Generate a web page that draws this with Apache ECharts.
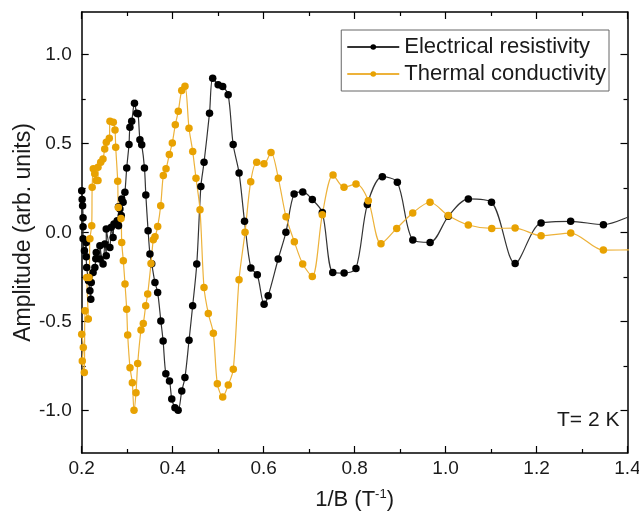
<!DOCTYPE html>
<html>
<head>
<meta charset="utf-8">
<script src="https://cdn.jsdelivr.net/npm/echarts@6/dist/echarts.min.js"></script>
<style>html,body{margin:0;padding:0;background:#fff;}#chart{width:639px;height:512px;}</style>
</head>
<body>
<div id="chart"></div>
<script>
// ---- data ----
const seriesNames = ['Electrical resistivity', 'Thermal conductivity'];
const xTicks = [0.2, 0.4, 0.6, 0.8, 1.0, 1.2, 1.4];
const yTicks = [-1.0, -0.5, 0.0, 0.5, 1.0];

const resistivityX = [0.200,0.201,0.202,0.203,0.203,0.203,0.206,0.210,0.210,0.211,0.215,0.218,0.220,0.221,0.225,0.229,0.231,0.232,0.240,0.240,0.247,0.251,0.254,0.254,0.262,0.265,0.269,0.271,0.278,0.281,0.281,0.284,0.287,0.288,0.291,0.295,0.299,0.304,0.306,0.310,0.316,0.321,0.324,0.328,0.332,0.338,0.341,0.346,0.350,0.354,0.361,0.367,0.374,0.379,0.385,0.393,0.398,0.405,0.412,0.420,0.427,0.436,0.444,0.453,0.462,0.469,0.481,0.488,0.500,0.510,0.522,0.533,0.546,0.558,0.572,0.586,0.601,0.610,0.632,0.649,0.667,0.686,0.707,0.729,0.752,0.777,0.803,0.828,0.861,0.894,0.928,0.966,1.006,1.050,1.101,1.153,1.210,1.275,1.347,1.420];
const resistivityY = [0.235,0.185,0.151,0.083,0.033,-0.035,-0.103,-0.056,-0.136,-0.197,-0.272,-0.328,-0.375,-0.281,-0.225,-0.197,-0.148,-0.112,-0.149,-0.074,-0.177,-0.065,-0.131,0.020,-0.084,0.029,-0.028,0.048,0.066,0.038,0.145,0.132,0.095,0.189,0.170,0.226,0.363,0.495,0.592,0.626,0.727,0.671,0.668,0.521,0.493,0.363,0.211,0.010,-0.121,-0.176,-0.281,-0.337,-0.497,-0.610,-0.795,-0.835,-0.936,-0.985,-1.000,-0.891,-0.816,-0.606,-0.412,-0.177,0.258,0.395,0.671,0.868,0.831,0.821,0.775,0.495,0.335,0.063,-0.200,-0.238,-0.403,-0.356,-0.149,0.001,0.217,0.228,0.185,0.113,-0.225,-0.228,-0.202,0.157,0.314,0.282,-0.042,-0.056,0.091,0.189,0.170,-0.174,0.054,0.063,0.044,0.110];

const conductivityX = [0.2000,0.2035,0.2013,0.2057,0.2073,0.2145,0.2110,0.2160,0.2180,0.2220,0.2230,0.2255,0.2286,0.2320,0.2358,0.2358,0.2418,0.2468,0.2506,0.2541,0.2607,0.2622,0.2695,0.2732,0.2748,0.2792,0.2805,0.2864,0.2880,0.2915,0.2952,0.2989,0.3011,0.3062,0.3113,0.3150,0.3194,0.3231,0.3304,0.3354,0.3407,0.3451,0.3524,0.3574,0.3612,0.3671,0.3737,0.3794,0.3854,0.3926,0.3992,0.4058,0.4124,0.4199,0.4271,0.4359,0.4441,0.4513,0.4601,0.4689,0.4784,0.4894,0.4982,0.5100,0.5223,0.5333,0.5459,0.5591,0.5716,0.5848,0.6008,0.6162,0.6323,0.6492,0.6675,0.6859,0.7070,0.7290,0.7526,0.7767,0.8031,0.8302,0.8580,0.8926,0.9278,0.9658,1.0060,1.0500,1.1015,1.1529,1.2100,1.2752,1.3469,1.4300];
const conductivityY = [-0.572,-0.647,-0.722,-0.788,-0.440,-0.487,-0.253,-0.253,-0.035,0.038,0.254,0.358,0.330,0.292,0.292,0.367,0.395,0.414,0.470,0.508,0.530,0.626,0.620,0.577,0.479,0.288,0.141,0.079,-0.056,-0.159,-0.290,-0.431,-0.576,-0.760,-0.845,-1.000,-0.901,-0.737,-0.549,-0.512,-0.412,-0.346,-0.174,-0.041,-0.024,0.034,0.151,0.320,0.358,0.438,0.504,0.606,0.682,0.799,0.823,0.586,0.455,0.305,0.128,-0.309,-0.456,-0.566,-0.850,-0.925,-0.857,-0.769,-0.266,0.001,0.286,0.395,0.386,0.450,0.305,0.089,-0.052,-0.177,-0.247,0.100,0.324,0.254,0.273,0.179,-0.063,0.023,0.110,0.170,0.095,0.042,0.023,0.025,-0.018,-0.003,-0.099,-0.097];

// ---- layout / style ----
const FONT = 'Liberation Sans, Arial, sans-serif';
const TXT = '#1a1a1a';
const plotLeft = 81.7, plotRight = 11.5, plotTop = 12, plotBottom = 59;
const yLim = 1.24;
const plotH = 512 - plotTop - plotBottom;
const off = (yLim - 1) / (2 * yLim) * plotH;

const zip = (xs, ys) => xs.map((x, i) => [x, ys[i]]);

const tickCommon = {
  axisTick: { show: true, inside: true, length: 7, lineStyle: { color: '#000', width: 1.2 } },
  minorTick: { show: true, splitNumber: 2, length: 4, lineStyle: { color: '#000', width: 1.2 } },
  splitLine: { show: false }, minorSplitLine: { show: false }
};
const lineAx = { show: true, onZero: false, lineStyle: { color: '#000', width: 1.5 } };

const chart = echarts.init(document.getElementById('chart'), null, { renderer: 'canvas' });
chart.setOption({
  animation: false,
  backgroundColor: '#fff',
  grid: [
    { left: plotLeft, right: plotRight, top: plotTop, bottom: plotBottom, outerBoundsMode: 'none', containLabel: false },
    { left: plotLeft, right: plotRight, top: plotTop + off, bottom: plotBottom + off, outerBoundsMode: 'none', containLabel: false }
  ],
  xAxis: [
    Object.assign({ type: 'value', gridIndex: 0, position: 'bottom', min: xTicks[0], max: xTicks[xTicks.length - 1], interval: 0.2,
      axisLine: lineAx,
      axisLabel: { color: TXT, fontSize: 19, fontFamily: FONT, margin: 6, formatter: v => v.toFixed(1) },
      name: '1/B (T{sup|-1})', nameLocation: 'middle', nameGap: 35, nameMoveOverlap: false,
      nameTextStyle: { color: TXT, fontSize: 22, fontFamily: FONT, rich: { sup: { fontSize: 13, verticalAlign: 'top', padding: [0, 0, 11, 0], fontFamily: FONT, color: TXT } } }
    }, tickCommon),
    Object.assign({ type: 'value', gridIndex: 0, position: 'top', min: 0.2, max: 1.4, interval: 0.2,
      axisLine: lineAx, axisLabel: { show: false } }, tickCommon),
    { type: 'value', gridIndex: 1, min: 0.2, max: 1.4, show: false }
  ],
  yAxis: [
    { type: 'value', gridIndex: 0, position: 'left', min: -yLim, max: yLim, axisLine: lineAx,
      axisTick: { show: false }, axisLabel: { show: false }, splitLine: { show: false } },
    { type: 'value', gridIndex: 0, position: 'right', min: -yLim, max: yLim, axisLine: lineAx,
      axisTick: { show: false }, axisLabel: { show: false }, splitLine: { show: false } },
    Object.assign({ type: 'value', gridIndex: 1, position: 'left', min: yTicks[0], max: yTicks[yTicks.length - 1], interval: 0.5,
      axisLine: { show: false },
      axisLabel: { color: TXT, fontSize: 19, fontFamily: FONT, margin: 10, formatter: v => v.toFixed(1) },
      name: 'Amplitude (arb. units)', nameLocation: 'middle', nameGap: 47, nameRotate: 90, nameMoveOverlap: false,
      nameTextStyle: { color: TXT, fontSize: 23, fontFamily: FONT }
    }, tickCommon),
    Object.assign({ type: 'value', gridIndex: 1, position: 'right', min: -1, max: 1, interval: 0.5,
      axisLine: { show: false }, axisLabel: { show: false } }, tickCommon)
  ],
  legend: {
    orient: 'vertical', right: 30, top: 30,
    data: seriesNames,
    borderColor: '#666', borderWidth: 1, borderRadius: 0,
    padding: [6, 3, 6, 5], itemGap: 5, itemWidth: 52, itemHeight: 7,
    textStyle: { color: TXT, fontSize: 22, fontFamily: FONT }
  },
  graphic: [
    { type: 'text', left: 557, top: 410, style: { text: 'T= 2 K', fill: TXT, font: '21px ' + FONT } }
  ],
  series: [
    { name: seriesNames[0], type: 'line', xAxisIndex: 0, yAxisIndex: 0, data: zip(resistivityX, resistivityY),
      smooth: 0.3, clip: true, symbol: 'circle', symbolSize: 7.5,
      itemStyle: { color: '#000' }, lineStyle: { color: '#333', width: 1.2 } },
    { name: seriesNames[1], type: 'line', xAxisIndex: 0, yAxisIndex: 0, data: zip(conductivityX, conductivityY),
      smooth: 0.3, clip: true, symbol: 'circle', symbolSize: 7.5,
      itemStyle: { color: '#E8A202' }, lineStyle: { color: '#EDB23A', width: 1.2 } }
  ]
});
</script>
</body>
</html>
